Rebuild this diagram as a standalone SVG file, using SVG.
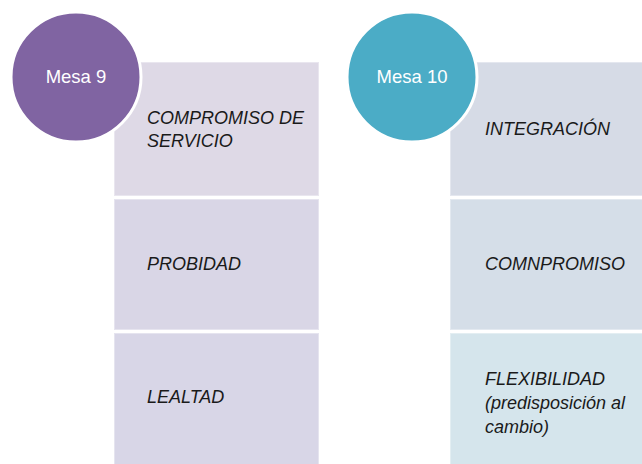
<svg xmlns="http://www.w3.org/2000/svg" width="642" height="464" viewBox="0 0 642 464">
<style>
.box{stroke:#ffffff;stroke-opacity:0.35;stroke-width:2}
.t{font-family:"Liberation Sans",Arial,sans-serif;font-style:italic;font-size:18px;fill:#1a1a1a}
.c{font-family:"Liberation Sans",Arial,sans-serif;font-size:18.5px;fill:#ffffff;text-anchor:middle}
.circ{stroke:#ffffff;stroke-width:3}
</style>
<rect width="642" height="464" fill="#ffffff"/>
<g id="connectors"></g>
<g id="m9-b1"><rect class="box" x="114" y="62" width="205" height="134" fill="#DED9E6"/>
<text class="t" x="147" y="124">COMPROMISO DE</text><text class="t" x="147" y="147">SERVICIO</text></g>
<g id="m9-b2"><rect class="box" x="114" y="199" width="205" height="131" fill="#D9D6E6"/>
<text class="t" x="147" y="270">PROBIDAD</text></g>
<g id="m9-b3"><rect class="box" x="114" y="333" width="205" height="135" fill="#D8D6E7"/>
<text class="t" x="147" y="403">LEALTAD</text></g>
<g id="m10-b1"><rect class="box" x="450" y="62" width="196" height="134" fill="#D6DBE6"/>
<text class="t" x="485" y="135">INTEGRACIÓN</text></g>
<g id="m10-b2"><rect class="box" x="450" y="199" width="196" height="131" fill="#D5DEE8"/>
<text class="t" x="485" y="270">COMNPROMISO</text></g>
<g id="m10-b3"><rect class="box" x="450" y="333" width="196" height="135" fill="#D5E5EC"/>
<text class="t" x="485" y="385">FLEXIBILIDAD</text><text class="t" x="485" y="409">(predisposición al</text><text class="t" x="485" y="433">cambio)</text></g>
<g id="mesa9"><circle class="circ" cx="76" cy="77" r="65" fill="#8064A2"/><text class="c" x="76" y="83">Mesa 9</text></g>
<g id="mesa10"><circle class="circ" cx="412" cy="77" r="65" fill="#4BACC6"/><text class="c" x="412" y="83">Mesa 10</text></g>
</svg>
